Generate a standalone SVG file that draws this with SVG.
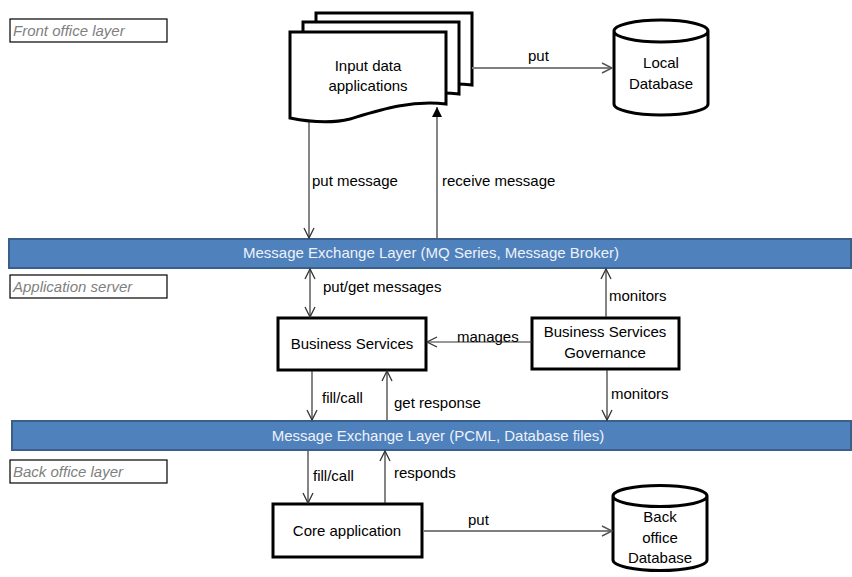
<svg xmlns="http://www.w3.org/2000/svg" width="852" height="577" viewBox="0 0 852 577">
<style>
text{font-family:"Liberation Sans",Arial,sans-serif;font-size:15px;fill:#000}
.layer{font-style:italic;fill:#7f7f7f}
.bartxt{fill:#eef2f8;font-size:15px;text-anchor:middle}
.mid{text-anchor:middle}
.lbox{fill:#fff;stroke:#000;stroke-width:1.2}
.node{fill:#fff;stroke:#000;stroke-width:3}
.bar{fill:#4f81bd;stroke:#3a5f8b;stroke-width:2}
.c{fill:none;stroke:#333;stroke-width:1.2}
.g{fill:none;stroke:#7f7f7f;stroke-width:2}
</style>
<defs>
<marker id="open" markerUnits="userSpaceOnUse" markerWidth="14" markerHeight="14" viewBox="0 0 14 14" refX="12" refY="7" orient="auto-start-reverse">
<path d="M2,2 L12,7 L2,12" fill="none" stroke="#333" stroke-width="1.3"/>
</marker>
<marker id="openg" markerUnits="userSpaceOnUse" markerWidth="14" markerHeight="14" viewBox="0 0 14 14" refX="12" refY="7" orient="auto">
<path d="M2,2 L12,7 L2,12" fill="none" stroke="#555" stroke-width="1.4"/>
</marker>
<marker id="fill" markerUnits="userSpaceOnUse" markerWidth="12" markerHeight="12" viewBox="0 0 12 12" refX="11" refY="6" orient="auto">
<path d="M1,1 L11,6 L1,11 Z" fill="#000"/>
</marker>
<path id="doc" d="M0,0 H156 V72 C120,68 90,78 60,87 C40,92 20,90 0,86 Z"/>
</defs>

<g id="layer-front">
<rect class="lbox" x="10" y="19" width="157" height="23"/>
<text class="layer" x="13" y="36">Front office layer</text>
</g>
<g id="layer-app">
<rect class="lbox" x="10" y="275" width="157" height="23"/>
<text class="layer" x="13" y="292">Application server</text>
</g>
<g id="layer-back">
<rect class="lbox" x="10" y="460" width="157" height="23"/>
<text class="layer" x="13" y="477">Back office layer</text>
</g>

<g id="mq-bar">
<rect class="bar" x="9" y="239" width="842" height="29"/>
<text class="bartxt" x="431" y="258">Message Exchange Layer (MQ Series, Message Broker)</text>
</g>
<g id="pcml-bar">
<rect class="bar" x="12" y="421" width="839" height="29"/>
<text class="bartxt" x="438" y="441">Message Exchange Layer (PCML, Database files)</text>
</g>

<g id="input-data-applications">
<use href="#doc" class="node" x="316" y="13"/>
<use href="#doc" class="node" x="303" y="22"/>
<use href="#doc" class="node" x="290" y="32"/>
<text class="mid" x="368" y="71">Input data</text>
<text class="mid" x="368" y="91">applications</text>
</g>

<g id="local-database">
<path class="node" d="M614,31 V104 A47,11 0 0 0 708,104 V31 A47,11 0 0 0 614,31 Z M614,31 A47,11 0 0 0 708,31"/>
<text class="mid" x="661" y="68">Local</text>
<text class="mid" x="661" y="89">Database</text>
</g>

<g id="business-services">
<rect class="node" x="278" y="318" width="148" height="52"/>
<text class="mid" x="352" y="349">Business Services</text>
</g>

<g id="business-services-governance">
<rect class="node" x="532" y="318" width="147" height="51"/>
<text class="mid" x="605" y="337">Business  Services</text>
<text class="mid" x="605" y="358">Governance</text>
</g>

<g id="core-application">
<rect class="node" x="273" y="504" width="149" height="53"/>
<text class="mid" x="347" y="536">Core application</text>
</g>

<g id="back-office-database">
<path class="node" d="M613,496 V560 A47,10.5 0 0 0 707,560 V496 A47,10.5 0 0 0 613,496 Z M613,496 A47,10.5 0 0 0 707,496"/>
<text class="mid" x="660" y="522">Back</text>
<text class="mid" x="660" y="543">office</text>
<text class="mid" x="660" y="563">Database</text>
</g>

<g id="connectors">
<line class="g" x1="472" y1="68" x2="612" y2="68" marker-end="url(#openg)"/>
<line class="c" x1="309" y1="122" x2="309" y2="238" marker-end="url(#open)"/>
<line class="c" x1="437" y1="238" x2="437" y2="107" marker-end="url(#fill)"/>
<line class="c" x1="310" y1="269" x2="310" y2="317" marker-start="url(#open)" marker-end="url(#open)"/>
<line class="c" x1="606" y1="317" x2="606" y2="269" marker-end="url(#open)"/>
<line class="c" x1="532" y1="342" x2="427" y2="342" marker-end="url(#open)"/>
<line class="c" x1="312" y1="371" x2="312" y2="420" marker-end="url(#open)"/>
<line class="c" x1="387" y1="420" x2="387" y2="371" marker-end="url(#open)"/>
<line class="c" x1="607" y1="370" x2="607" y2="420" marker-end="url(#open)"/>
<line class="c" x1="308" y1="451" x2="308" y2="503" marker-end="url(#open)"/>
<line class="c" x1="385" y1="503" x2="385" y2="451" marker-end="url(#open)"/>
<line class="g" x1="423" y1="531" x2="612" y2="531" marker-end="url(#openg)"/>
<text x="528" y="61">put</text>
<text x="312" y="186">put message</text>
<text x="442" y="186">receive message</text>
<text x="323" y="292">put/get messages</text>
<text x="609" y="301">monitors</text>
<text x="457" y="342">manages</text>
<text x="322" y="403">fill/call</text>
<text x="394" y="408">get response</text>
<text x="611" y="399">monitors</text>
<text x="313" y="481">fill/call</text>
<text x="394" y="478">responds</text>
<text x="468" y="525">put</text>
</g>
</svg>
